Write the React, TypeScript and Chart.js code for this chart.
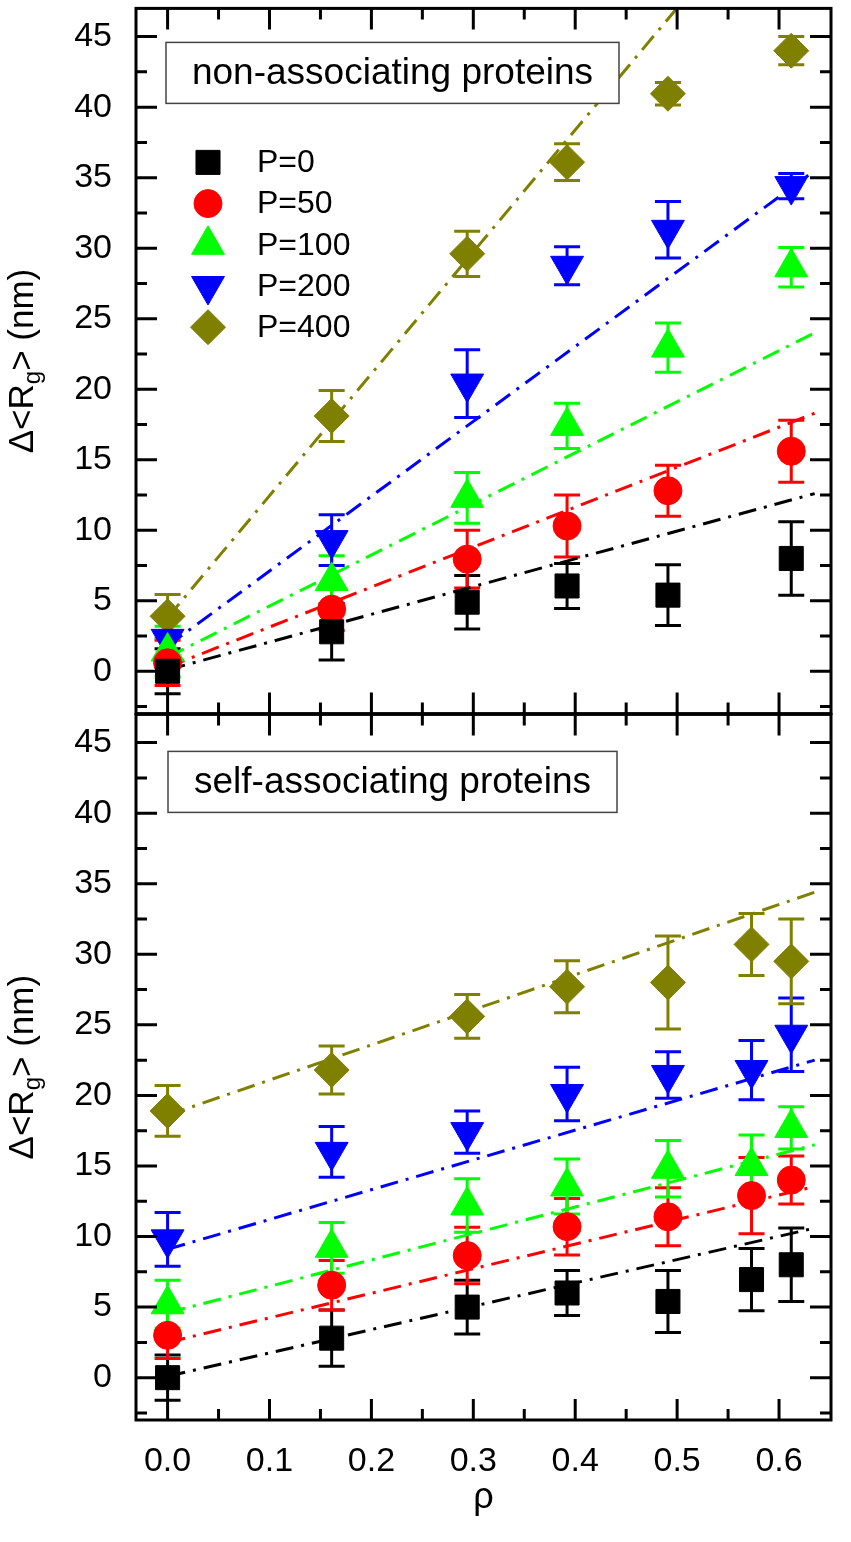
import React, { useEffect, useRef } from 'react'
import { Chart, registerables } from 'chart.js'
import { drawPoint } from 'chart.js/helpers'

Chart.register(...registerables)

const FONT = '"Liberation Sans", Arial, Helvetica, sans-serif'

// rho positions of the measurements
const rhoNon = [0, 0.161, 0.294, 0.392, 0.491, 0.612]
const rhoSelf = [0, 0.161, 0.294, 0.392, 0.491, 0.573, 0.612]
const fitRho = [0, 0.635]

const seriesLabels = ['P=0', 'P=50', 'P=100', 'P=200', 'P=400']
const seriesColors = ['#000000', '#ff0000', '#00ff00', '#0000ff', '#808000']
const pointStyles = ['rect', 'circle', 'triangle', 'triangle', 'rectRot']
const pointRadii = [17, 14, 19, 19, 17.5]
const pointRotations = [0, 0, 0, 180, 0]

// non-associating proteins
const nonP0 = [0.0, 2.8, 4.9, 6.05, 5.4, 8.0]
const nonP0Err = [1.6, 2.0, 1.9, 1.6, 2.15, 2.6]
const nonP50 = [0.6, 4.4, 7.95, 10.3, 12.8, 15.6]
const nonP50Err = [1.6, 1.5, 2.05, 2.2, 1.8, 2.2]
const nonP100 = [1.4, 6.4, 12.3, 17.4, 22.95, 28.65]
const nonP100Err = [1.8, 1.8, 1.8, 1.6, 1.75, 1.4]
const nonP200 = [2.3, 9.3, 20.4, 28.75, 31.3, 34.4]
const nonP200Err = [1.5, 1.8, 2.4, 1.35, 2.0, 0.9]
const nonP400 = [3.9, 18.1, 29.6, 36.1, 40.95, 44.0]
const nonP400Err = [1.55, 1.8, 1.6, 1.3, 0.8, 1.0]
const nonFitStart = [0.1, 0.3, 1.0, 1.8, 3.8]
const nonFitEnd = [12.6, 18.3, 24.0, 35.5, 58.7]

// self-associating proteins
const selfP0 = [0.0, 2.8, 5.0, 6.0, 5.4, 6.95, 8.0]
const selfP0Err = [1.6, 2.0, 1.9, 1.6, 2.2, 2.2, 2.6]
const selfP50 = [3.0, 6.55, 8.65, 10.7, 11.4, 12.9, 14.0]
const selfP50Err = [1.65, 1.75, 2.0, 2.0, 2.05, 2.7, 1.7]
const selfP100 = [5.2, 9.2, 12.2, 13.55, 14.8, 15.0, 17.7]
const selfP100Err = [1.7, 1.8, 1.9, 1.95, 2.0, 2.2, 1.5]
const selfP200 = [9.8, 16.0, 17.4, 20.1, 21.45, 21.8, 24.3]
const selfP200Err = [1.9, 1.8, 1.5, 1.9, 1.65, 2.1, 2.6]
const selfP400 = [18.9, 21.8, 25.6, 27.7, 28.0, 30.7, 29.5]
const selfP400Err = [1.8, 1.7, 1.55, 1.85, 3.3, 2.2, 3.0]
const selfFitStart = [0.1, 2.5, 4.6, 9.1, 18.6]
const selfFitEnd = [10.6, 13.55, 16.5, 22.5, 34.4]

const xMajor = [0, 0.1, 0.2, 0.3, 0.4, 0.5, 0.6]
const xMinor = [0.05, 0.15, 0.25, 0.35, 0.45, 0.55]
const yMajor = [0, 5, 10, 15, 20, 25, 30, 35, 40, 45]
const yMinor = [-2.5, 2.5, 7.5, 12.5, 17.5, 22.5, 27.5, 32.5, 37.5, 42.5]

function buildDatasets(rho: number[], values: number[][], errors: number[][], fitStart: number[], fitEnd: number[]) {
  const fits = fitStart.map((a, i) => ({
    type: 'line',
    data: [{ x: fitRho[0], y: a }, { x: fitRho[1], y: fitEnd[i] }],
    borderColor: seriesColors[i],
    borderWidth: 3,
    borderDash: [18, 8, 3, 8],
    pointRadius: 0,
    fill: false,
    order: 2,
  }))
  const points = values.map((vals, i) => ({
    type: 'scatter',
    label: seriesLabels[i],
    data: vals.map((v, j) => ({ x: rho[j], y: v })),
    errors: errors[i],
    borderColor: seriesColors[i],
    backgroundColor: seriesColors[i],
    pointStyle: pointStyles[i],
    pointRadius: pointRadii[i],
    pointRotation: pointRotations[i],
    pointBackgroundColor: seriesColors[i],
    pointBorderColor: seriesColors[i],
    pointBorderWidth: 1,
    showLine: false,
    order: 1,
  }))
  return [...fits, ...points]
}

const errorBars = {
  id: 'errorBars',
  beforeDatasetsDraw(chart: any) {
    const { ctx } = chart
    const x = chart.scales.x
    const y = chart.scales.y
    chart.data.datasets.forEach((ds: any) => {
      if (!ds.errors) return
      ctx.save()
      ctx.strokeStyle = ds.borderColor
      ctx.lineWidth = 3
      ds.data.forEach((p: any, j: number) => {
        const px = x.getPixelForValue(p.x)
        const top = y.getPixelForValue(p.y + ds.errors[j])
        const bot = y.getPixelForValue(p.y - ds.errors[j])
        ctx.beginPath()
        ctx.moveTo(px, top)
        ctx.lineTo(px, bot)
        ctx.moveTo(px - 13, top)
        ctx.lineTo(px + 13, top)
        ctx.moveTo(px - 13, bot)
        ctx.lineTo(px + 13, bot)
        ctx.stroke()
      })
      ctx.restore()
    })
  },
}

interface DecorOpts {
  label: string
  box: [number, number, number, number]
  legend: boolean
  xTitle: boolean
}

function makeDecor(opts: DecorOpts) {
  return {
    id: 'decor',
    afterDraw(chart: any) {
      const { ctx, chartArea: a } = chart
      const x = chart.scales.x
      const y = chart.scales.y
      ctx.save()

      // inward ticks on all four sides
      ctx.strokeStyle = '#000'
      ctx.lineWidth = 3
      ctx.beginPath()
      const xTick = (v: number, len: number) => {
        const px = x.getPixelForValue(v)
        ctx.moveTo(px, a.bottom)
        ctx.lineTo(px, a.bottom - len)
        ctx.moveTo(px, a.top)
        ctx.lineTo(px, a.top + len)
      }
      const yTick = (v: number, len: number) => {
        const py = y.getPixelForValue(v)
        ctx.moveTo(a.left, py)
        ctx.lineTo(a.left + len, py)
        ctx.moveTo(a.right, py)
        ctx.lineTo(a.right - len, py)
      }
      xMajor.forEach(v => xTick(v, 21))
      xMinor.forEach(v => xTick(v, 11))
      yMajor.forEach(v => yTick(v, 21))
      yMinor.forEach(v => yTick(v, 11))
      ctx.stroke()
      ctx.strokeRect(a.left, a.top, a.right - a.left, a.bottom - a.top)

      // panel label box
      const [bx, by, bw, bh] = opts.box
      ctx.fillStyle = '#fff'
      ctx.fillRect(a.left + bx, a.top + by, bw, bh)
      ctx.lineWidth = 1.5
      ctx.strokeStyle = '#444'
      ctx.strokeRect(a.left + bx, a.top + by, bw, bh)
      ctx.fillStyle = '#000'
      ctx.font = `37px ${FONT}`
      ctx.textAlign = 'center'
      ctx.textBaseline = 'middle'
      ctx.fillText(opts.label, a.left + bx + bw / 2, a.top + by + bh / 2 + 1)

      // legend
      if (opts.legend) {
        seriesLabels.forEach((lab, i) => {
          const cy = a.top + 154 + i * 41.2
          const cx = a.left + 72
          ctx.fillStyle = seriesColors[i]
          ctx.strokeStyle = seriesColors[i]
          ctx.lineWidth = 1
          drawPoint(ctx, { pointStyle: pointStyles[i], radius: pointRadii[i], rotation: pointRotations[i], borderWidth: 1 } as any, cx, cy)
          ctx.fillStyle = '#000'
          ctx.font = `32px ${FONT}`
          ctx.textAlign = 'left'
          ctx.textBaseline = 'middle'
          ctx.fillText(lab, a.left + 121, cy + 1)
        })
      }

      // y title with subscript
      const cy = (a.top + a.bottom) / 2
      ctx.translate(33, cy)
      ctx.rotate(-Math.PI / 2)
      ctx.fillStyle = '#000'
      ctx.textAlign = 'left'
      ctx.textBaseline = 'alphabetic'
      const main = `35px ${FONT}`
      const sub = `24px ${FONT}`
      ctx.font = main
      const w1 = ctx.measureText('Δ<R').width
      const w3 = ctx.measureText('> (nm)').width
      ctx.font = sub
      const w2 = ctx.measureText('g').width
      let tx = -(w1 + w2 + w3) / 2
      ctx.font = main
      ctx.fillText('Δ<R', tx, 0)
      tx += w1
      ctx.font = sub
      ctx.fillText('g', tx, 7)
      tx += w2
      ctx.font = main
      ctx.fillText('> (nm)', tx, 0)
      ctx.restore()

      if (opts.xTitle) {
        ctx.save()
        ctx.fillStyle = '#000'
        ctx.font = `36px ${FONT}`
        ctx.textAlign = 'center'
        ctx.textBaseline = 'alphabetic'
        ctx.fillText('ρ', (a.left + a.right) / 2, a.bottom + 88)
        ctx.restore()
      }
    },
  }
}

interface PanelProps {
  datasets: any[]
  top: number
  height: number
  showX: boolean
  decor: DecorOpts
}

function Panel({ datasets, top, height, showX, decor }: PanelProps) {
  const canvasRef = useRef<HTMLCanvasElement>(null)
  const chartRef = useRef<Chart | null>(null)

  useEffect(() => {
    if (!canvasRef.current) return
    chartRef.current?.destroy()

    chartRef.current = new Chart(canvasRef.current, {
      type: 'scatter',
      data: { datasets: datasets as any },
      options: {
        animation: false,
        responsive: false,
        maintainAspectRatio: false,
        events: [],
        layout: { padding: { left: 0, right: 8, top: 0, bottom: 0 } },
        plugins: { legend: { display: false }, tooltip: { enabled: false } },
        scales: {
          x: {
            type: 'linear',
            display: showX,
            min: -0.031,
            max: 0.651,
            afterBuildTicks: (s: any) => { s.ticks = xMajor.map(v => ({ value: v })) },
            afterFit: (s: any) => {
              if (showX) s.height = 122
            },
            grid: { display: false, drawTicks: false },
            border: { display: false },
            ticks: {
              autoSkip: false,
              maxRotation: 0,
              padding: 21,
              color: '#000',
              font: { family: FONT, size: 34 },
              callback: (v: any) => Number(v).toFixed(1),
            },
          },
          y: {
            type: 'linear',
            min: -3,
            max: 47,
            afterBuildTicks: (s: any) => { s.ticks = yMajor.map(v => ({ value: v })) },
            afterFit: (s: any) => { s.width = 136 },
            grid: { display: false, drawTicks: false },
            border: { display: false },
            ticks: {
              padding: 24,
              color: '#000',
              font: { family: FONT, size: 34 },
              callback: (v: any) => String(v),
            },
          },
        },
      },
      plugins: [errorBars, makeDecor(decor)],
    } as any)

    return () => {
      chartRef.current?.destroy()
      chartRef.current = null
    }
  }, [datasets])

  return (
    <canvas
      ref={canvasRef}
      width={851}
      height={height}
      style={{ position: 'absolute', left: 0, top, width: 851, height }}
    />
  )
}

const nonDatasets = buildDatasets(
  rhoNon,
  [nonP0, nonP50, nonP100, nonP200, nonP400],
  [nonP0Err, nonP50Err, nonP100Err, nonP200Err, nonP400Err],
  nonFitStart,
  nonFitEnd,
)
const selfDatasets = buildDatasets(
  rhoSelf,
  [selfP0, selfP50, selfP100, selfP200, selfP400],
  [selfP0Err, selfP50Err, selfP100Err, selfP200Err, selfP400Err],
  selfFitStart,
  selfFitEnd,
)

export default function App() {
  // the y axis keeps ~44px (half a label line plus tick padding) free above and below the plot area
  return (
    <div style={{ position: 'absolute', left: 0, top: 0, width: 851, height: 1542, background: '#fff', overflow: 'hidden' }}>
      <Panel
        datasets={nonDatasets}
        top={-36}
        height={794}
        showX={false}
        decor={{ label: 'non-associating proteins', box: [30, 34, 453, 61], legend: true, xTitle: false }}
      />
      <Panel
        datasets={selfDatasets}
        top={670}
        height={872}
        showX={true}
        decor={{ label: 'self-associating proteins', box: [32, 37, 449, 61], legend: false, xTitle: true }}
      />
    </div>
  )
}
